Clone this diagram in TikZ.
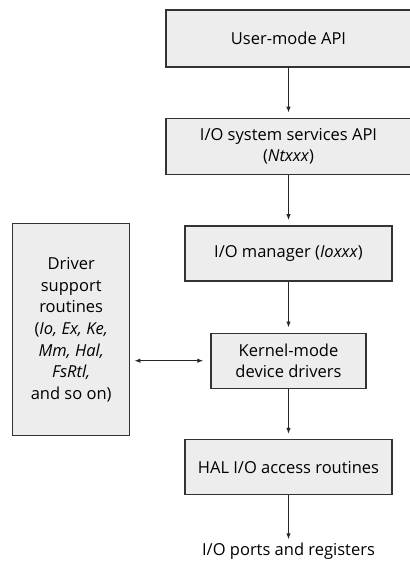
\documentclass[tikz,border=0pt]{standalone}
\usepackage{fontspec}
\setmainfont{Open Sans}
\usetikzlibrary{positioning, arrows.meta}

\begin{document}
\begin{tikzpicture}[
    x=1pt, y=1pt,
    font=\fontsize{16.5}{21.7}\selectfont,
    layer/.style={rectangle, draw=black!80, line width=1.4pt, fill=black!7, align=center, inner sep=2pt},
    ar/.style={-{Latex[length=6pt,width=4.5pt]}, line width=1.1pt, draw=black!85, shorten >=5pt},
    dar/.style={{Latex[length=6pt,width=4.5pt]}-{Latex[length=6pt,width=4.5pt]}, line width=1.1pt, draw=black!85, shorten <=4pt, shorten >=7pt}
]
\useasboundingbox (0,0) rectangle (409,-561);

\node[layer, minimum width=245pt, minimum height=57pt] (user) at (288.5,-38.5) {User-mode API};
\node[layer, minimum width=245pt, minimum height=56pt, below=50pt of user] (sys) {I/O system services API\\ (\textit{Ntxxx})};
\node[layer, minimum width=207pt, minimum height=55pt, below=50pt of sys] (mgr) {I/O manager (\textit{Ioxxx})};
\node[layer, minimum width=155pt, minimum height=55pt, below=51pt of mgr] (kern) {Kernel-mode\\ device drivers};
\node[layer, minimum width=207pt, minimum height=55pt, below=50pt of kern] (hal) {HAL I/O access routines};
\node[below=47pt of hal, inner sep=0pt] (ports) {I/O ports and registers};

\node[layer, minimum width=117pt, minimum height=212pt, anchor=north west] (drv) at (12,-223)
    {Driver\\ support\\ routines\\ (\textit{Io, Ex, Ke,}\\ \textit{Mm, Hal,}\\ \textit{FsRtl,}\\ and so on)};

\draw[ar] (user) -- (sys);
\draw[ar] (sys) -- (mgr);
\draw[ar] (mgr) -- (kern);
\draw[ar] (kern) -- (hal);
\draw[ar, shorten >=3pt] (hal) -- (ports);
\draw[dar] (drv.east |- kern.west) -- (kern.west);
\end{tikzpicture}
\end{document}
